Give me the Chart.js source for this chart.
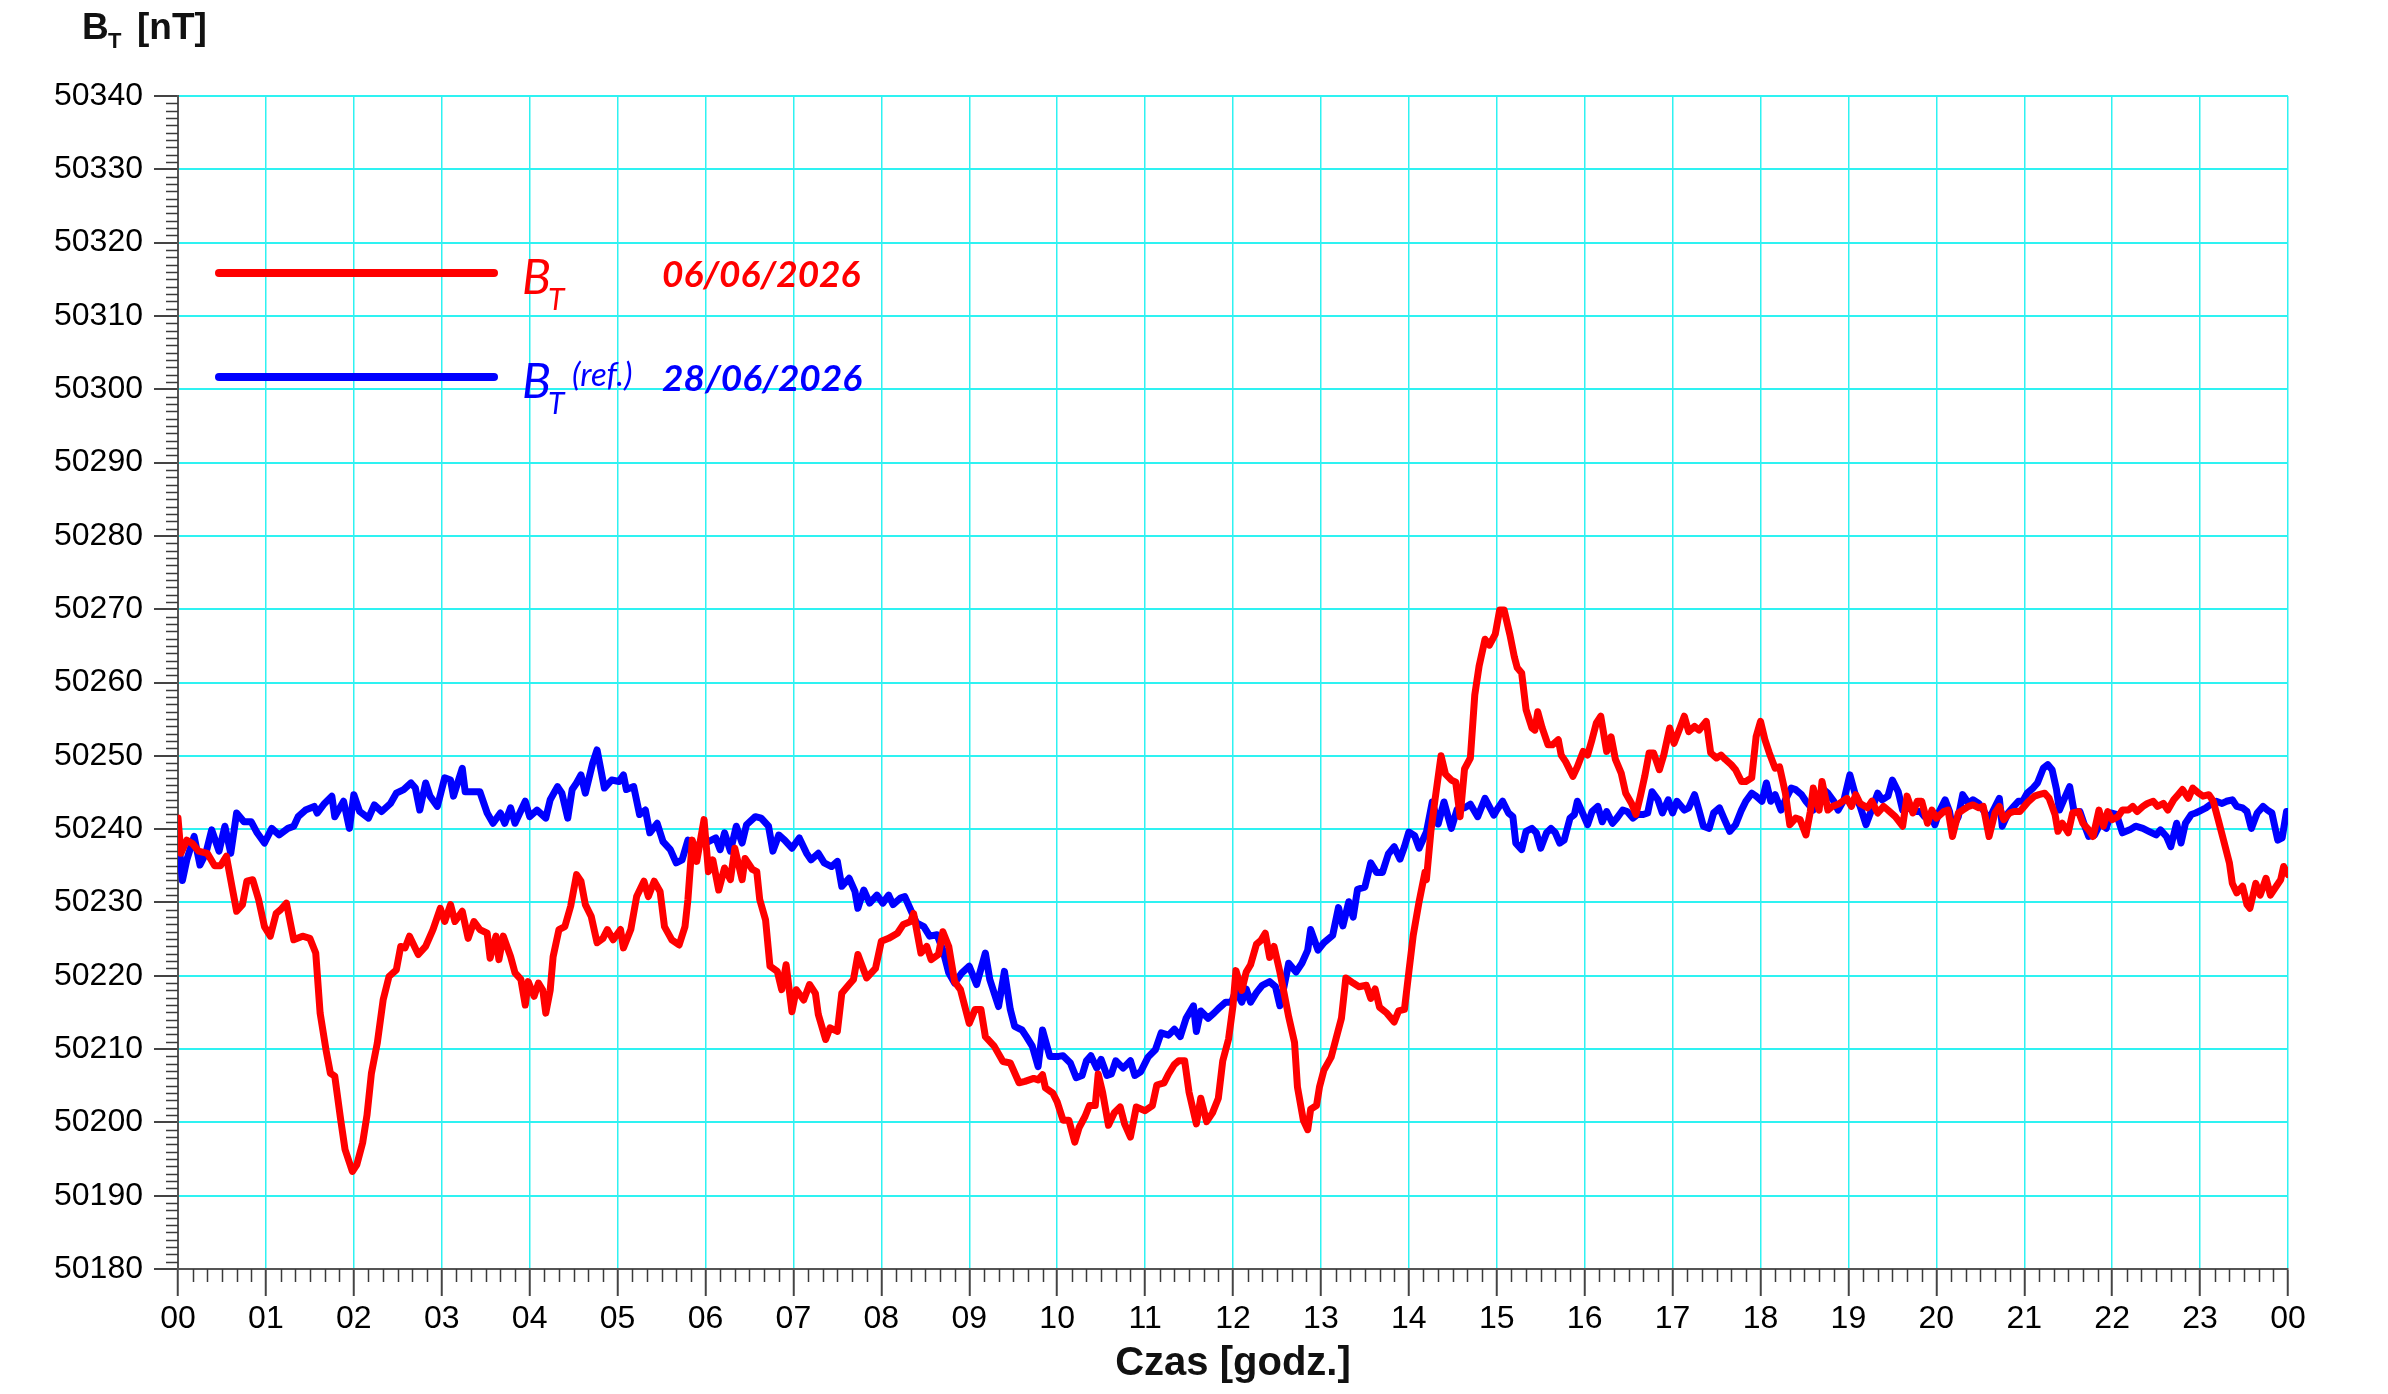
<!DOCTYPE html>
<html>
<head>
<meta charset="utf-8">
<script src="https://cdn.jsdelivr.net/npm/chart.js@4.4.1/dist/chart.umd.min.js"></script>
<style>
    html, body { margin: 0; padding: 0; background: #fff; }
    #wrap { width: 2388px; height: 1394px; }
</style>
</head>
<body>
<div id="wrap"><canvas id="btChart" width="2388" height="1394"></canvas></div>
<script>
// time in minutes since 00:00, values in nT
const redMinutes = [
    0, 2, 6, 10, 14, 20, 25, 29, 33, 37, 40, 44, 47, 51, 55, 59,
    63, 67, 70, 74, 79, 85, 90, 94, 97, 101, 104, 107, 111, 114, 119,
    122, 126, 129, 132, 136, 140, 144, 149, 152, 155, 158, 164, 169, 174, 179,
    182, 186, 189, 194, 198, 202, 206, 211, 213, 217, 219, 222, 227, 230, 234, 237, 239,
    243, 246, 249, 251, 254, 256, 260, 264, 268, 272, 275, 278, 282, 286, 290, 293, 297,
    302, 304, 309, 313, 318, 321, 325, 329, 332, 337, 342, 346, 348, 351, 354, 359,
    362, 365, 369, 373, 377, 380, 385, 387, 392, 395, 397, 401, 404, 409, 412, 415, 419,
    422, 427, 431, 435, 437, 442, 445, 450, 453, 458, 461, 464, 467, 470, 476,
    480, 485, 491, 495, 500, 502, 507, 511, 514, 519, 522, 526, 530, 534,
    540, 544, 548, 551, 557, 563, 568, 574, 578, 584, 587, 590, 592, 597,
    600, 604, 608, 612, 615, 619, 622, 626, 628, 631, 635, 639, 643, 646, 650, 654,
    660, 665, 668, 673, 676, 680, 683, 687, 690, 695, 698, 702, 706, 710, 713, 717,
    720, 722, 726, 729, 732, 736, 739, 742, 745, 748, 752, 755, 758, 762, 764, 768, 771, 773, 777, 779,
    782, 787, 790, 794, 797, 802, 806, 811, 814, 817, 820, 825, 830, 833, 837,
    840, 843, 847, 851, 852, 855, 858, 862, 865, 869, 872, 875, 878, 882, 885, 888, 892, 895, 899,
    902, 905, 909, 912, 914, 917, 920, 924, 926, 928, 931, 935, 938, 942, 944, 947, 952, 955, 959,
    962, 965, 968, 971, 975, 978, 981, 985, 988, 992, 995, 998, 1001, 1004, 1007, 1011, 1014, 1018,
    1021, 1025, 1028, 1031, 1035, 1038, 1043, 1046, 1050, 1053, 1056, 1060, 1063, 1067, 1070, 1074, 1077,
    1080, 1083, 1086, 1090, 1093, 1097, 1100, 1104, 1107, 1111, 1114, 1116, 1120, 1122, 1126, 1129, 1134, 1139,
    1142, 1145, 1148, 1153, 1156, 1160, 1164, 1167, 1172, 1177, 1180, 1184, 1187, 1190, 1194, 1197,
    1200, 1205, 1208, 1211, 1215, 1218, 1222, 1225, 1229, 1232, 1236, 1240, 1243, 1246, 1250, 1253, 1257,
    1260, 1263, 1267, 1270, 1274, 1277, 1281, 1283, 1286, 1290, 1293, 1297, 1300, 1304, 1307, 1311, 1314, 1317,
    1320, 1324, 1327, 1331, 1334, 1337, 1341, 1344, 1348, 1351, 1355, 1358, 1362, 1365, 1368, 1372, 1375, 1379,
    1382, 1386, 1389, 1393, 1396, 1400, 1402, 1405, 1409, 1412, 1414, 1418, 1421, 1425, 1428, 1432, 1435, 1437, 1440
];
const redBt = [
    50241.5, 50236.7, 50238.5, 50238.0, 50237.0, 50236.7, 50235.0, 50235.0, 50236.3, 50232.0, 50228.8, 50229.7, 50232.9, 50233.1, 50230.4, 50226.7,
    50225.4, 50228.5, 50229.0, 50229.9, 50224.9, 50225.4, 50225.1, 50223.1, 50214.9, 50209.9, 50206.7, 50206.3, 50200.4, 50196.3, 50193.3,
    50194.2, 50197.2, 50201.0, 50206.7, 50210.8, 50216.7, 50219.9, 50220.8, 50224.0, 50223.8, 50225.4, 50222.9, 50224.0, 50226.3, 50229.2,
    50227.4, 50229.7, 50227.4, 50228.8, 50225.1, 50227.4, 50226.3, 50225.8, 50222.4, 50225.4, 50222.2, 50225.4, 50222.6, 50220.4, 50219.5, 50216.0, 50219.2,
    50217.2, 50219.0, 50218.0, 50214.9, 50218.0, 50222.6, 50226.3, 50226.7, 50229.5, 50233.8, 50232.9, 50229.7, 50228.1, 50224.5, 50225.1, 50226.3, 50224.9,
    50226.3, 50223.8, 50226.3, 50230.8, 50232.9, 50230.8, 50232.9, 50231.5, 50226.7, 50224.9, 50224.2, 50226.7, 50230.4, 50238.5, 50235.6, 50241.3,
    50234.2, 50235.8, 50231.7, 50234.7, 50233.1, 50237.4, 50233.1, 50236.0, 50234.5, 50234.2, 50230.4, 50227.6, 50221.3, 50220.6, 50218.1, 50221.5, 50215.1,
    50218.1, 50216.7, 50218.8, 50217.6, 50214.7, 50211.3, 50212.9, 50212.4, 50217.6, 50218.8, 50219.5, 50222.9, 50221.3, 50219.7, 50221.0,
    50224.7, 50225.1, 50225.8, 50227.0, 50227.4, 50228.5, 50223.1, 50224.0, 50222.2, 50222.9, 50226.0, 50224.0, 50219.2, 50218.1,
    50213.5, 50215.4, 50215.4, 50211.7, 50210.4, 50208.3, 50208.1, 50205.4, 50205.6, 50206.0, 50205.8, 50206.5, 50204.7, 50204.0,
    50202.8, 50200.3, 50200.3, 50197.3, 50199.3, 50200.8, 50202.3, 50202.3, 50206.6, 50204.1, 50199.6, 50201.3, 50202.1, 50199.8, 50198.0, 50202.1,
    50201.6, 50202.3, 50205.1, 50205.4, 50206.6, 50207.9, 50208.4, 50208.4, 50204.1, 50199.8, 50203.3, 50200.1, 50201.3, 50203.3, 50208.4, 50211.4,
    50215.9, 50220.7, 50218.0, 50220.5, 50221.5, 50224.3, 50224.8, 50225.8, 50222.5, 50224.0, 50220.5, 50217.5, 50214.4, 50210.9, 50204.8, 50200.3, 50199.0, 50201.8, 50202.3, 50204.8,
    50207.1, 50208.9, 50211.2, 50214.2, 50219.7, 50219.0, 50218.5, 50218.7, 50216.9, 50218.2, 50215.7, 50214.9, 50213.7, 50215.2, 50215.4,
    50220.5, 50225.5, 50230.1, 50234.1, 50233.1, 50239.6, 50244.2, 50250.0, 50247.5, 50246.7, 50246.4, 50241.7, 50248.2, 50249.7, 50258.3, 50262.3, 50265.9, 50265.1, 50266.6,
    50269.9, 50269.9, 50266.5, 50263.5, 50262.0, 50261.3, 50256.3, 50253.8, 50253.5, 50256.0, 50253.8, 50251.5, 50251.5, 50252.2, 50250.1, 50249.2, 50247.2, 50248.5, 50250.6,
    50250.1, 50252.2, 50254.5, 50255.4, 50250.6, 50252.6, 50249.5, 50247.6, 50244.9, 50243.5, 50242.0, 50244.5, 50247.2, 50250.4, 50250.4, 50248.1, 50250.1, 50253.8,
    50251.7, 50253.8, 50255.4, 50253.3, 50254.0, 50253.5, 50254.7, 50250.4, 50249.7, 50250.1, 50249.5, 50248.8, 50248.1, 50246.5, 50246.5, 50247.0, 50252.6,
    50254.7, 50252.2, 50250.4, 50248.3, 50248.5, 50244.9, 50240.6, 50241.5, 50241.3, 50239.2, 50242.4, 50245.6, 50242.6, 50246.5, 50242.6, 50243.1, 50243.5, 50244.2,
    50243.1, 50244.7, 50243.5, 50242.9, 50243.8, 50242.2, 50243.1, 50242.6, 50241.7, 50240.4, 50244.5, 50242.2, 50243.8, 50243.8, 50240.8, 50242.6,
    50241.5, 50242.4, 50242.6, 50239.0, 50242.2, 50242.6, 50243.1, 50243.3, 50242.9, 50243.1, 50239.0, 50242.2, 50243.1, 50241.3, 50242.2, 50242.4, 50242.4,
    50243.1, 50243.8, 50244.5, 50244.7, 50244.9, 50244.2, 50242.0, 50239.7, 50240.8, 50239.5, 50242.2, 50242.4, 50240.8, 50239.9, 50239.0, 50242.6, 50240.4, 50242.4,
    50241.3, 50241.7, 50242.6, 50242.6, 50243.1, 50242.4, 50243.1, 50243.5, 50243.8, 50243.1, 50243.5, 50242.6, 50244.0, 50244.7, 50245.4, 50244.2, 50245.6, 50244.9,
    50244.5, 50244.7, 50243.8, 50240.8, 50238.5, 50235.4, 50232.6, 50231.3, 50232.2, 50229.7, 50229.2, 50232.6, 50231.0, 50233.3, 50231.0, 50232.2, 50233.1, 50234.9, 50233.8
];

const blueMinutes = [
    0, 3, 6, 11, 15, 19, 23, 28, 32, 36, 40, 45, 50, 54, 59,
    64, 69, 75, 79, 82, 87, 93, 95, 100, 105, 107, 113, 117,
    120, 124, 130, 134, 139, 145, 149, 154, 159, 162, 165, 169, 172, 177,
    182, 186, 188, 194, 196, 200, 206, 211, 215, 220, 223, 227, 230, 237,
    240, 245, 251, 254, 259, 262, 266, 269, 272, 275, 278, 283, 286, 291, 296,
    301, 304, 306, 311, 315, 319, 322, 327, 331, 336, 340, 344, 348, 353, 356,
    362, 367, 370, 373, 377, 381, 385, 388, 394, 398, 403, 406, 410, 414, 419,
    424, 429, 432, 437, 441, 446, 450, 453, 458, 462, 464, 468, 472, 477,
    481, 485, 488, 493, 496, 500, 504, 509, 513, 518, 522, 526, 530, 535,
    540, 545, 551, 554, 560, 564, 568, 571, 576, 579, 583, 587, 590, 595,
    601, 604, 609, 613, 617, 620, 623, 627, 630, 634, 637, 640, 645, 650, 653, 657,
    662, 667, 671, 676, 680, 684, 688, 693, 695, 698, 703, 707, 711, 715, 719,
    722, 726, 729, 732, 736, 740, 745, 749, 752, 755, 758, 763, 767, 771, 773, 778,
    782, 788, 792, 795, 799, 802, 805, 810, 814, 818, 822, 826, 830, 834, 837,
    840, 844, 847, 852, 856, 860, 864, 869, 873, 878, 882, 887, 892, 898,
    900, 904, 908, 911, 913, 917, 920, 924, 927, 930, 934, 937, 940, 943, 946, 950, 953, 955, 959,
    962, 965, 969, 972, 975, 979, 982, 986, 989, 993, 996, 1000, 1003, 1006, 1010, 1013, 1017,
    1020, 1023, 1028, 1031, 1035, 1038, 1041, 1045, 1048, 1052, 1055, 1059, 1063, 1067, 1070, 1074, 1077,
    1081, 1084, 1087, 1090, 1094, 1097, 1101, 1104, 1108, 1111, 1116, 1120, 1123, 1126, 1130, 1133, 1137,
    1141, 1145, 1148, 1152, 1155, 1160, 1163, 1167, 1170, 1174, 1177, 1181, 1185, 1189, 1192, 1197, 1199,
    1202, 1206, 1209, 1211, 1215, 1218, 1222, 1225, 1229, 1232, 1236, 1239, 1243, 1245, 1249, 1252, 1256, 1259,
    1262, 1266, 1269, 1273, 1276, 1279, 1282, 1284, 1287, 1291, 1294, 1298, 1301, 1304, 1308, 1312, 1316, 1319,
    1323, 1327, 1332, 1336, 1341, 1345, 1350, 1353, 1357, 1360, 1364, 1367, 1370, 1374, 1377,
    1381, 1384, 1388, 1391, 1395, 1398, 1402, 1405, 1409, 1412, 1415, 1419, 1423, 1426, 1429, 1433, 1436, 1439, 1440
];
const blueBt = [
    50239.5, 50233.0, 50235.8, 50239.0, 50235.1, 50236.7, 50239.9, 50237.0, 50240.4, 50236.7, 50242.2, 50241.0, 50241.0, 50239.5, 50238.1,
    50240.1, 50239.2, 50240.1, 50240.4, 50241.7, 50242.6, 50243.1, 50242.2, 50243.5, 50244.5, 50241.7, 50243.8, 50240.1,
    50244.7, 50242.4, 50241.5, 50243.3, 50242.4, 50243.5, 50244.9, 50245.4, 50246.3, 50245.6, 50242.6, 50246.3, 50244.5, 50243.1,
    50247.0, 50246.7, 50244.5, 50248.3, 50245.1, 50245.1, 50245.1, 50242.2, 50240.8, 50242.2, 50240.8, 50242.9, 50240.8, 50243.8,
    50241.7, 50242.6, 50241.5, 50244.0, 50245.8, 50244.9, 50241.5, 50245.4, 50246.3, 50247.4, 50244.9, 50249.0, 50250.8, 50245.6, 50246.7,
    50246.5, 50247.4, 50245.4, 50245.8, 50242.0, 50242.6, 50239.5, 50240.8, 50238.3, 50237.2, 50235.4, 50235.8, 50238.5, 50235.8, 50238.1,
    50238.3, 50238.8, 50237.2, 50239.5, 50237.0, 50240.4, 50238.1, 50240.6, 50241.7, 50241.5, 50240.4, 50237.0, 50239.2, 50238.5, 50237.4,
    50238.8, 50236.7, 50235.8, 50236.7, 50235.4, 50234.9, 50235.6, 50232.2, 50233.3, 50231.5, 50229.2, 50231.7, 50229.9, 50231.0,
    50229.9, 50231.0, 50229.7, 50230.6, 50230.8, 50229.0, 50227.2, 50226.7, 50225.4, 50225.6, 50223.5, 50220.4, 50219.0, 50220.4,
    50221.3, 50218.8, 50223.1, 50219.5, 50215.8, 50220.6, 50215.4, 50213.1, 50212.6, 50211.7, 50210.4, 50207.6, 50212.6, 50209.0,
    50209.0, 50209.1, 50208.1, 50206.1, 50206.4, 50208.4, 50209.1, 50207.4, 50208.6, 50206.4, 50206.6, 50208.4, 50207.4, 50208.4, 50206.4, 50206.9,
    50208.9, 50209.9, 50212.2, 50211.9, 50212.7, 50211.7, 50214.2, 50215.9, 50212.4, 50215.2, 50214.2, 50214.9, 50215.7, 50216.4, 50216.4,
    50218.0, 50216.4, 50218.2, 50216.4, 50217.7, 50218.7, 50219.2, 50218.5, 50215.9, 50218.7, 50221.7, 50220.5, 50221.7, 50223.5, 50226.3, 50223.5,
    50224.5, 50225.5, 50229.3, 50226.8, 50230.1, 50228.0, 50231.8, 50232.1, 50235.4, 50234.1, 50234.1, 50236.6, 50237.6, 50235.9, 50237.6,
    50239.6, 50239.1, 50237.4, 50239.6, 50243.7, 50240.7, 50243.7, 50240.1, 50242.7, 50242.9, 50243.4, 50241.7, 50244.2, 50241.9,
    50242.6, 50243.8, 50242.2, 50241.7, 50238.1, 50237.2, 50239.7, 50240.1, 50239.5, 50237.4, 50239.5, 50240.1, 50239.5, 50238.1, 50238.5, 50241.5, 50242.0, 50243.8, 50242.0,
    50240.6, 50242.4, 50243.1, 50241.0, 50242.4, 50240.8, 50241.5, 50242.6, 50242.4, 50241.5, 50242.0, 50242.0, 50242.2, 50245.1, 50244.0, 50242.2, 50244.0,
    50242.2, 50243.8, 50242.6, 50242.9, 50244.7, 50242.6, 50240.4, 50240.1, 50242.2, 50242.9, 50241.5, 50239.7, 50240.6, 50242.6, 50243.8, 50244.9, 50244.5,
    50243.8, 50246.3, 50243.8, 50244.7, 50242.6, 50244.0, 50245.6, 50245.4, 50244.7, 50243.8, 50242.6, 50244.0, 50245.4, 50244.9, 50243.8, 50242.6, 50244.0,
    50247.4, 50244.5, 50243.1, 50240.6, 50242.2, 50244.9, 50244.0, 50244.5, 50246.7, 50245.1, 50242.6, 50242.9, 50242.4, 50242.4, 50241.7, 50241.5, 50240.6,
    50242.4, 50244.0, 50242.4, 50240.1, 50241.7, 50244.7, 50243.5, 50244.0, 50243.5, 50242.6, 50241.3, 50242.6, 50244.2, 50240.4, 50242.2, 50242.9, 50243.8, 50243.8,
    50244.9, 50245.6, 50246.3, 50248.3, 50248.8, 50248.1, 50245.4, 50242.6, 50244.0, 50245.8, 50242.4, 50242.4, 50240.6, 50239.0, 50239.2, 50240.8, 50240.1, 50242.2,
    50242.0, 50239.5, 50239.9, 50240.4, 50240.1, 50239.7, 50239.2, 50239.9, 50239.0, 50237.6, 50240.8, 50238.1, 50240.8, 50242.0, 50242.2,
    50242.6, 50242.9, 50243.5, 50243.8, 50243.5, 50243.8, 50244.0, 50243.1, 50242.9, 50242.4, 50240.1, 50242.2, 50243.1, 50242.6, 50242.2, 50238.5, 50238.8, 50242.4, 50242.4
];

const yMin = 50180;
const yMax = 50340;
const dayMinutes = 1440;

const seriesLabels = ['06/06/2026', '28/06/2026'];

const axisFont = "'Liberation Sans', Arial, sans-serif";
const legendFont = "Lato, 'Open Sans', sans-serif";
const gridCyan = '#2ef2f2';

function toPoints(minutes, values) {
    return minutes.map(function(m, i) {
        return { x: m, y: values[i] };
    });
}

function hourLabel(value) {
    const h = Math.round(value / 60) % 24;
    return (h < 10 ? '0' : '') + h;
}

// minor ticks, axis title and the legend block
const decorations = {
    id: 'decorations',
    afterDraw(chart) {
        const ctx = chart.ctx;
        const xs = chart.scales.x;
        const ys = chart.scales.y;
        const area = chart.chartArea;

        ctx.save();
        ctx.strokeStyle = '#3a3a3a';
        ctx.lineWidth = 1.5;
        ctx.beginPath();
        for (let v = yMin + 1; v < yMax; v++) {
            if (v % 10 === 0) continue;
            const py = Math.round(ys.getPixelForValue(v)) + 0.5;
            ctx.moveTo(area.left - 12, py);
            ctx.lineTo(area.left, py);
        }
        for (let m = 10; m < dayMinutes; m += 10) {
            if (m % 60 === 0) continue;
            const px = Math.round(xs.getPixelForValue(m)) + 0.5;
            ctx.moveTo(px, area.bottom);
            ctx.lineTo(px, area.bottom + 13);
        }
        ctx.stroke();

        // y axis title: B_T [nT]
        ctx.fillStyle = '#111';
        ctx.textBaseline = 'alphabetic';
        ctx.textAlign = 'left';
        ctx.font = 'bold 37px ' + axisFont;
        ctx.fillText('B', 82, 39);
        ctx.font = 'bold 22px ' + axisFont;
        ctx.fillText('T', 108, 48);
        ctx.font = 'bold 37px ' + axisFont;
        ctx.fillText('[nT]', 137, 39);

        // legend
        const rows = [
            { color: '#ff0000', y: 273, sup: '', date: seriesLabels[0] },
            { color: '#0000ff', y: 377, sup: '(ref.)', date: seriesLabels[1] }
        ];
        rows.forEach(function(r) {
            ctx.strokeStyle = r.color;
            ctx.lineWidth = 8;
            ctx.lineCap = 'round';
            ctx.beginPath();
            ctx.moveTo(219, r.y);
            ctx.lineTo(494, r.y);
            ctx.stroke();

            ctx.fillStyle = r.color;
            ctx.font = 'italic 48px ' + legendFont;
            ctx.fillText('B', 522, r.y + 21);
            ctx.font = 'italic 30px ' + legendFont;
            ctx.fillText('T', 548, r.y + 37);
            if (r.sup) {
                ctx.font = 'italic 33px ' + legendFont;
                ctx.fillText(r.sup, 572, r.y + 9);
            }
            ctx.font = 'italic bold 37px ' + legendFont;
            ctx.fillText(r.date, 662, r.y + 14);
        });
        ctx.restore();
    }
};

const ctx = document.getElementById('btChart').getContext('2d');
const btChart = new Chart(ctx, {
    type: 'line',
    data: {
        datasets: [{
            label: seriesLabels[0],
            data: toPoints(redMinutes, redBt),
            borderColor: '#ff0000',
            borderWidth: 7,
        }, {
            label: seriesLabels[1],
            data: toPoints(blueMinutes, blueBt),
            borderColor: '#0000ff',
            borderWidth: 7,
        }]
    },
    options: {
        responsive: false,
        animation: false,
        devicePixelRatio: 1,
        parsing: false,
        elements: {
            point: { radius: 0 },
            line: { tension: 0, borderJoinStyle: 'round', borderCapStyle: 'round' }
        },
        layout: {
            padding: { left: 0, top: 96, right: 100, bottom: 0 }
        },
        plugins: {
            legend: { display: false },
            tooltip: { enabled: false },
            title: { display: false }
        },
        scales: {
            x: {
                type: 'linear',
                min: 0,
                max: dayMinutes,
                afterFit: function(scale) { scale.height = 125; },
                ticks: {
                    stepSize: 60,
                    autoSkip: false,
                    maxRotation: 0,
                    padding: 4,
                    color: '#000',
                    font: { family: axisFont, size: 32 },
                    callback: hourLabel
                },
                grid: {
                    color: gridCyan,
                    lineWidth: 1.5,
                    tickColor: '#444',
                    tickLength: 27,
                    tickWidth: 2
                },
                border: { color: '#555', width: 2 },
                title: {
                    display: true,
                    text: 'Czas [godz.]',
                    color: '#111',
                    font: { family: axisFont, size: 40, weight: 'bold' },
                    padding: { top: 0, bottom: 6 }
                }
            },
            y: {
                min: yMin,
                max: yMax,
                afterFit: function(scale) { scale.width = 178; },
                ticks: {
                    stepSize: 10,
                    padding: 11,
                    color: '#000',
                    font: { family: axisFont, size: 32 },
                    callback: function(value) { return String(value); }
                },
                grid: {
                    color: gridCyan,
                    lineWidth: 2,
                    tickColor: '#444',
                    tickLength: 24,
                    tickWidth: 2
                },
                border: { color: '#555', width: 2 }
            }
        }
    },
    plugins: [decorations]
});
</script>
</body>
</html>
